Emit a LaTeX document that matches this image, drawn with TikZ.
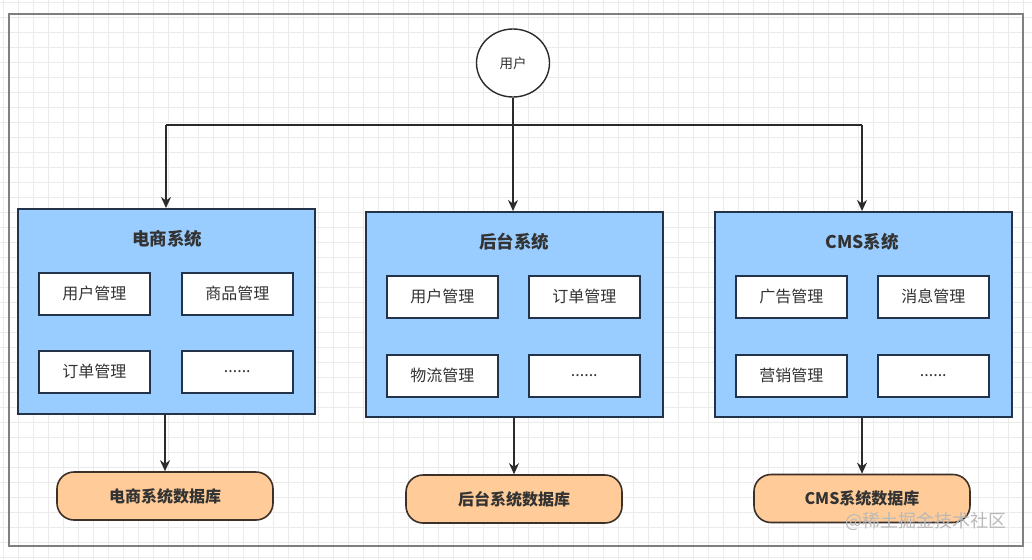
\documentclass[tikz,border=0pt]{standalone}
\usepackage{fontspec}
\setmainfont{Noto Sans CJK SC}
\usetikzlibrary{arrows.meta,shapes.geometric}
\definecolor{sysblue}{HTML}{99CCFF}
\definecolor{sysline}{HTML}{23334A}
\definecolor{dborange}{HTML}{FFCC99}
\definecolor{dbline}{HTML}{3D3028}
\definecolor{arrowc}{HTML}{2B2B2B}
\definecolor{gridc}{HTML}{EBEBEB}
\definecolor{framec}{HTML}{808080}
\definecolor{txtc}{HTML}{333333}
\tikzset{
  sysbox/.style={draw=sysline, fill=sysblue, line width=1.6pt, minimum width=297pt, minimum height=205pt, inner sep=0pt, anchor=north west},
  modbox/.style={draw=sysline, fill=white, line width=1.6pt, minimum width=111pt, minimum height=42pt, inner sep=0pt, anchor=north west, font=\fontsize{16}{18}\selectfont, text=txtc},
  titletext/.style={font=\fontsize{17.5}{20}\selectfont\bfseries, text=txtc},
  dbbox/.style={draw=dbline, fill=dborange, line width=1.6pt, minimum width=216pt, minimum height=48pt, rounded corners=17pt, inner sep=0pt, font=\fontsize{16}{18}\selectfont\bfseries, text=txtc},
  usercirc/.style={ellipse, draw=arrowc, fill=white, line width=1.4pt, minimum width=73pt, minimum height=68pt, inner sep=0pt, font=\fontsize{13.5}{15}\selectfont, text=txtc},
  arr/.style={draw=arrowc, line width=1.4pt, -{Stealth[length=11pt,width=10pt]}},
  plainline/.style={draw=arrowc, line width=1.4pt},
}
\begin{document}
\begin{tikzpicture}[x=1pt,y=-1pt]
\useasboundingbox (0,0) rectangle (1032,559);
\fill[white] (0,0) rectangle (1032,559);
% grid
\foreach \x in {3,18,...,1032} \draw[gridc, line width=0.8pt] (\x,0) -- (\x,559);
\foreach \y in {2,17,...,559} \draw[gridc, line width=0.8pt] (0,\y) -- (1032,\y);
% frame
\draw[framec, line width=2pt] (9,14) rectangle (1023,546);

% user
\node[usercirc] (user) at (513,63) {用户};
\coordinate (j) at (513,125);
\coordinate (jl) at (166,125);
\coordinate (jr) at (862,125);

% systems
\node[sysbox] (s1) at (17,208) {};
\node[sysbox] (s2) at (365,211) {};
\node[sysbox] (s3) at (714,211) {};

\node[titletext] (t1) at (167,239) {电商系统};
\node[titletext] (t2) at (514,242) {后台系统};
\node[titletext] (t3) at (862,242) {CMS系统};

% modules system 1
\node[modbox] (m11) at (38,272) {用户管理};
\node[modbox] (m12) at (181,272) {商品管理};
\node[modbox] (m13) at (38,350) {订单管理};
\node[modbox] (m14) at (181,350) {......};
% modules system 2
\node[modbox] (m21) at (386,275) {用户管理};
\node[modbox] (m22) at (528,275) {订单管理};
\node[modbox] (m23) at (386,354) {物流管理};
\node[modbox] (m24) at (528,354) {......};
% modules system 3
\node[modbox] (m31) at (735,275) {广告管理};
\node[modbox] (m32) at (877,275) {消息管理};
\node[modbox] (m33) at (735,354) {营销管理};
\node[modbox] (m34) at (877,354) {......};

% databases
\node[dbbox] (d1) at (165,496) {电商系统数据库};
\node[dbbox] (d2) at (514,499) {后台系统数据库};
\node[dbbox] (d3) at (862,498.5) {CMS系统数据库};

% connectors
\draw[plainline] (user.south) -- (j);
\draw[plainline] (jl) -- (jr);
\draw[arr] (jl) -- (s1.north -| jl);
\draw[arr] (j) -- (s2.north -| j);
\draw[arr] (jr) -- (s3.north -| jr);
\draw[arr] (s1.south -| d1.north) -- (d1.north);
\draw[arr] (s2.south -| d2.north) -- (d2.north);
\draw[arr] (s3.south -| d3.north) -- (d3.north);

% watermark
\node[text=gray!55, font=\fontsize{18}{20}\selectfont, anchor=east] (wm) at (1010,521) {@稀土掘金技术社区};
\end{tikzpicture}
\end{document}
